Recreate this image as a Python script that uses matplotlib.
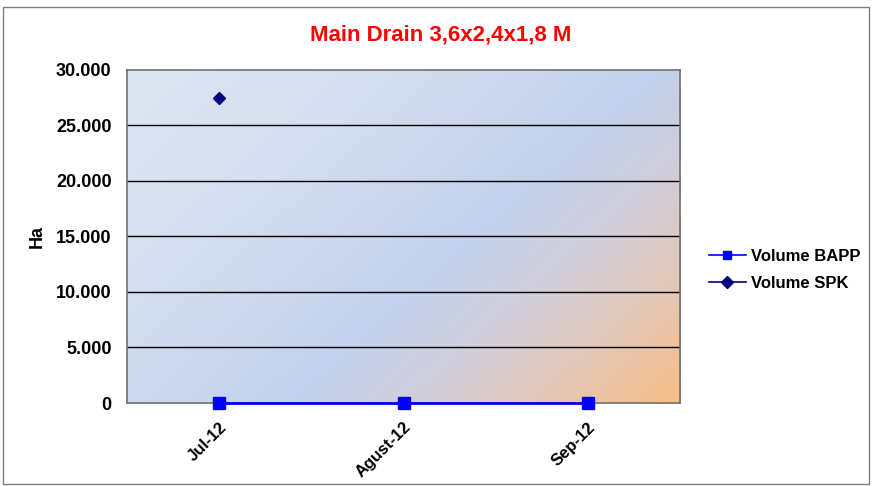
import numpy as np
import matplotlib
matplotlib.use("Agg")
import matplotlib.pyplot as plt
from matplotlib.colors import LinearSegmentedColormap
from matplotlib.patches import Rectangle

plt.rcParams['font.family'] = ['Liberation Sans', 'DejaVu Sans']

categories = ["Jul-12", "Agust-12", "Sep-12"]
volume_bapp = [0, 0, 0]
volume_spk = [27450, np.nan, np.nan]
yticks = [0, 5000, 10000, 15000, 20000, 25000, 30000]
ytick_labels = ["0", "5.000", "10.000", "15.000", "20.000", "25.000", "30.000"]

W, H = 872, 486
fig = plt.figure(figsize=(W / 100, H / 100), dpi=100)
fig.patch.set_facecolor("white")
fig.patches.append(Rectangle((3 / W, 2 / H), 866 / W, (H - 9) / H, transform=fig.transFigure,
                             fill=False, edgecolor="#7f7f7f", linewidth=1))

left, right, top, bottom = 127, 680, 70, 403
ax = fig.add_axes([left / W, 1 - bottom / H, (right - left) / W, (bottom - top) / H])

# gradient background
nx, ny = 300, 200
xx, yy = np.meshgrid(np.linspace(0, 1, nx), np.linspace(0, 1, ny))
t = np.clip((xx * 0.6 + yy * 0.4), 0, 1)
cmap = LinearSegmentedColormap.from_list("bg", [
    (0.0, "#dfe6f3"), (0.3, "#d3ddf0"), (0.58, "#c2d1ec"), (0.7, "#cfcedd"),
    (0.84, "#e2c8ba"), (1.0, "#f9be86")])
ax.imshow(t, cmap=cmap, extent=(-0.5, 2.5, 0, 30000), aspect="auto", origin="upper",
          zorder=0, interpolation="bilinear")

x = np.arange(len(categories))
for yv in yticks[1:-1]:
    ax.axhline(yv, color="black", linewidth=1, zorder=1)

ax.plot(x, volume_bapp, color="#0000ff", linewidth=2, marker="s", markersize=9,
        markerfacecolor="#0000ff", markeredgecolor="#0000ff", label="Volume BAPP", zorder=3,
        clip_on=False)
ax.plot(x, volume_spk, color="#000080", linewidth=1, marker="D", markersize=6,
        markerfacecolor="#000080", markeredgecolor="#000080", label="Volume SPK", zorder=4,
        clip_on=False)

ax.set_xlim(-0.5, 2.5)
ax.set_ylim(0, 30000)
ax.set_xticks(x)
ax.set_xticklabels(categories, rotation=45, ha="right", va="top", rotation_mode="anchor",
                   fontsize=12, fontweight="bold")
ax.set_yticks(yticks)
ax.set_yticklabels(ytick_labels, fontsize=13, fontweight="bold")
ax.tick_params(axis="y", length=0, pad=11)
ax.tick_params(axis="x", length=0, pad=12)
for s in ax.spines.values():
    s.set_color("#707070")
    s.set_linewidth(1.2)

ax.set_ylabel("Ha", fontsize=13, fontweight="bold")
ax.yaxis.set_label_coords((46 - left) / (right - left), 0.5)
fig.text(441 / W, 1 - 35 / H, "Main Drain 3,6x2,4x1,8 M", color="#ff0000", fontsize=16,
         fontweight="bold", ha="center", va="center")

leg = fig.legend(loc="center left", bbox_to_anchor=(694 / W, 1 - 270 / H), frameon=False,
                 prop={"weight": "bold", "size": 12}, handlelength=2.2,
                 handletextpad=0.3, labelspacing=0.75)
for line in leg.get_lines():
    line.set_linewidth(1.2)
    line.set_markersize(6)

fig.savefig("out.png", dpi=100)
